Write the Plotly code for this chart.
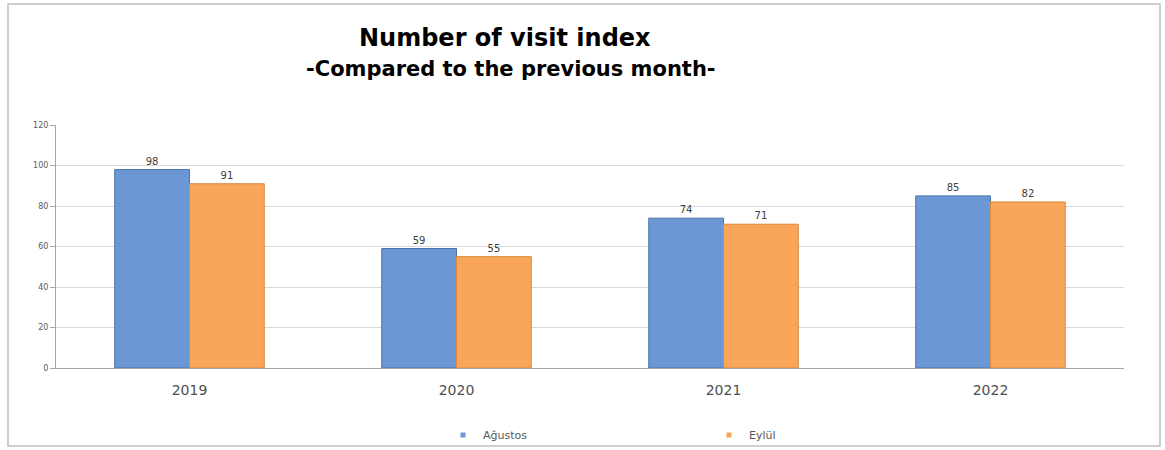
import plotly.graph_objects as go

years = ["2019", "2020", "2021", "2022"]
agustos = [98, 59, 74, 85]
eylul = [91, 55, 71, 82]
y_ticks = [0, 20, 40, 60, 80, 100, 120]

blue = "#6b98d4"
orange = "#f9a65a"

fig = go.Figure()
fig.add_trace(go.Bar(
    x=years, y=agustos, name="Ağustos", showlegend=False,
    marker=dict(color=blue, line=dict(color="#4a74a8", width=1)),
    text=agustos, textposition="outside",
    textfont=dict(size=10, color="#404040", family="DejaVu Sans"),
    cliponaxis=False,
))
fig.add_trace(go.Bar(
    x=years, y=eylul, name="Eylül", showlegend=False,
    marker=dict(color=orange, line=dict(color="#d9883e", width=1)),
    text=eylul, textposition="outside",
    textfont=dict(size=10, color="#404040", family="DejaVu Sans"),
    cliponaxis=False,
))
# legend entries with small square markers
fig.add_trace(go.Scatter(x=[None], y=[None], mode="markers", name="Ağustos",
                         marker=dict(symbol="square", size=5, color=blue)))
fig.add_trace(go.Scatter(x=[None], y=[None], mode="markers", name="Eylül",
                         marker=dict(symbol="square", size=5, color=orange)))

fig.update_layout(
    width=1165, height=450,
    margin=dict(l=56, r=41, t=125, b=82, autoexpand=False),
    paper_bgcolor="white", plot_bgcolor="white",
    barmode="group", bargap=0.44, bargroupgap=0,
    font=dict(family="DejaVu Sans", color="#404040"),
    showlegend=True,
    legend=dict(
        orientation="h", x=(443 - 56) / 1068, y=(368 - 435) / 243,
        xanchor="left", yanchor="middle", bgcolor="rgba(0,0,0,0)",
        font=dict(size=11, color="#595959"), entrywidth=221, entrywidthmode="pixels",
        itemwidth=30, tracegroupgap=0,
    ),
    xaxis=dict(
        showline=True, linecolor="#a6a6a6", linewidth=1,
        ticks="outside", ticklen=9, tickcolor="rgba(0,0,0,0)",
        tickfont=dict(size=14, color="#505050"),
        showgrid=False, fixedrange=True,
    ),
    yaxis=dict(
        range=[0, 120], tickvals=y_ticks,
        showline=True, linecolor="#a6a6a6", linewidth=1,
        ticks="outside", ticklen=5, tickcolor="#a6a6a6",
        tickfont=dict(size=8, color="#595959"),
        gridcolor="#d9d9d9", gridwidth=1, zeroline=False,
    ),
    shapes=[dict(
        type="rect", xref="paper", yref="paper",
        x0=(8 - 56) / 1068, x1=(1160 - 56) / 1068,
        y0=(368 - 446) / 243, y1=(368 - 4) / 243,
        line=dict(color="#bfbfbf", width=1.5), fillcolor="rgba(0,0,0,0)", layer="below",
    )],
    annotations=[
        dict(text="<b>Number of visit index</b>", xref="paper", yref="paper",
             x=(505 - 56) / 1068, y=(368 - 38) / 243, xanchor="center", yanchor="middle",
             showarrow=False, font=dict(size=24, color="#000000", family="DejaVu Sans")),
        dict(text="<b>-Compared to the previous month-</b>", xref="paper", yref="paper",
             x=(511 - 56) / 1068, y=(368 - 69) / 243, xanchor="center", yanchor="middle",
             showarrow=False, font=dict(size=21, color="#000000", family="DejaVu Sans")),
    ],
)

fig.write_html("out.html")
